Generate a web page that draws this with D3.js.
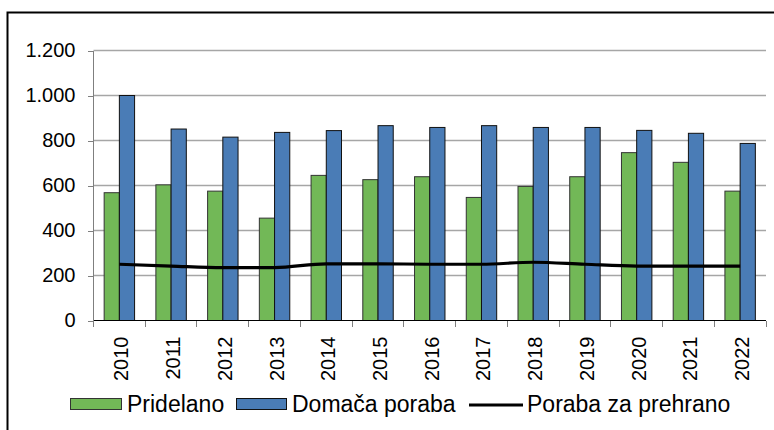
<!DOCTYPE html>
<html lang="sl">
  <head>
    <meta charset="utf-8">
    <title>Pridelano / Domača poraba</title>
    <script src="https://cdn.jsdelivr.net/npm/d3@7"></script>
    <style>
      body { margin: 0; background: #fff; }
      svg { display: block; font-family: "Liberation Sans", Arial, sans-serif; }
      .grid line { stroke: #a6a6a6; stroke-width: 1.3; }
      .axis path, .axis line { stroke: #7f7f7f; shape-rendering: crispEdges; }
      .axis text { fill: #000; }
    </style>
  </head>
  <body>
    <script>
      var years = ["2010", "2011", "2012", "2013", "2014", "2015", "2016", "2017", "2018", "2019", "2020", "2021", "2022"];
      var pridelano = [568, 603, 575, 455, 645, 626, 639, 547, 596, 639, 746, 703, 575];
      var domacaPoraba = [1000, 851, 815, 836, 844, 866, 858, 866, 858, 858, 845, 832, 787];
      var prehrana = [250, 242, 235, 235, 252, 252, 250, 250, 259, 250, 242, 242, 242];
      var yTicks = [0, 200, 400, 600, 800, 1000, 1200];
      var seriesNames = ["Pridelano", "Domača poraba", "Poraba za prehrano"];
      var colors = { green: "#72b857", blue: "#4a7cb6" };

      var w = 774, h = 430;
      var plotLeft = 93.5, plotRight = 766, plotTop = 50.5, plotBottom = 320.5;

      var svg = d3.select("body").append("svg")
          .attr("width", w)
          .attr("height", h);

      // outer frame (continues past the right / bottom edge)
      svg.append("rect")
          .attr("x", 7.5).attr("y", 12.5)
          .attr("width", 820).attr("height", 460)
          .attr("fill", "none")
          .attr("stroke", "#000")
          .attr("stroke-width", 2);

      var x = d3.scaleBand().domain(years).range([plotLeft, plotRight]);
      var x1 = d3.scaleBand().domain(["p", "d"]).range([0, x.bandwidth()]).paddingOuter(0.7);
      var y = d3.scaleLinear().domain([0, 1200]).range([plotBottom, plotTop]);

      // gridlines
      svg.append("g").attr("class", "grid")
        .selectAll("line")
        .data(yTicks.filter(function(d) { return d > 0; }))
        .enter().append("line")
          .attr("x1", plotLeft).attr("x2", plotRight)
          .attr("y1", function(d) { return y(d); })
          .attr("y2", function(d) { return y(d); });

      // y axis
      var yAxis = d3.axisLeft(y)
          .tickValues(yTicks)
          .tickSize(6)
          .tickPadding(12)
          .tickFormat(function(d) { return d3.format(",")(d).replace(",", "."); });

      var gy = svg.append("g")
          .attr("class", "axis")
          .attr("transform", "translate(" + plotLeft + ",0)")
          .call(yAxis);
      gy.select(".domain").attr("d", "M0," + plotTop + "V" + plotBottom);
      gy.selectAll("text").style("font-size", "20px");

      // bars
      var rows = years.map(function(yr, i) {
        return { year: yr, p: pridelano[i], d: domacaPoraba[i] };
      });

      var groups = svg.append("g").selectAll("g")
          .data(rows)
          .enter().append("g")
          .attr("transform", function(d) { return "translate(" + x(d.year) + ",0)"; });

      groups.append("rect")
          .attr("x", x1("p"))
          .attr("width", x1.bandwidth())
          .attr("y", function(d) { return y(d.p); })
          .attr("height", function(d) { return y(0) - y(d.p); })
          .attr("fill", colors.green)
          .attr("stroke", "#333")
          .attr("stroke-width", 1);

      groups.append("rect")
          .attr("x", x1("d"))
          .attr("width", x1.bandwidth())
          .attr("y", function(d) { return y(d.d); })
          .attr("height", function(d) { return y(0) - y(d.d); })
          .attr("fill", colors.blue)
          .attr("stroke", "#111")
          .attr("stroke-width", 1);

      // x axis
      var xAxis = d3.axisBottom(x).tickSize(0).tickPadding(0);
      var gx = svg.append("g")
          .attr("class", "axis")
          .attr("transform", "translate(0," + plotBottom + ")")
          .call(xAxis);
      gx.select(".domain").attr("d", "M" + plotLeft + ",0H" + plotRight).style("stroke", "#000");
      gx.selectAll(".tick text")
          .style("font-size", "20px")
          .attr("text-anchor", "end")
          .attr("dx", 0).attr("dy", 0)
          .attr("transform", "translate(9,16) rotate(-90)");

      // category boundary ticks
      svg.append("g").attr("class", "axis")
        .selectAll("line")
        .data(years.concat(["end"]))
        .enter().append("line")
          .attr("x1", function(d, i) { return plotLeft + i * x.step(); })
          .attr("x2", function(d, i) { return plotLeft + i * x.step(); })
          .attr("y1", plotBottom)
          .attr("y2", plotBottom + 6);

      // food consumption line
      var line = d3.line()
          .x(function(d, i) { return x(years[i]) + x.bandwidth() / 2; })
          .y(function(d) { return y(d); })
          .curve(d3.curveMonotoneX);

      svg.append("path")
          .datum(prehrana)
          .attr("d", line)
          .attr("fill", "none")
          .attr("stroke", "#000")
          .attr("stroke-width", 3.2);

      // legend
      var leg = svg.append("g").style("font-size", "23px");
      leg.append("rect").attr("x", 70.5).attr("y", 398.5).attr("width", 51).attr("height", 11)
          .attr("fill", colors.green).attr("stroke", "#333");
      leg.append("text").attr("x", 127).attr("y", 412).text(seriesNames[0]);
      leg.append("rect").attr("x", 236.5).attr("y", 398.5).attr("width", 50).attr("height", 11)
          .attr("fill", colors.blue).attr("stroke", "#111");
      leg.append("text").attr("x", 292).attr("y", 412).text(seriesNames[1]);
      leg.append("line").attr("x1", 469).attr("x2", 523).attr("y1", 405).attr("y2", 405)
          .attr("stroke", "#000").attr("stroke-width", 3.2);
      leg.append("text").attr("x", 527).attr("y", 412).text(seriesNames[2]);
    </script>
  </body>
</html>
